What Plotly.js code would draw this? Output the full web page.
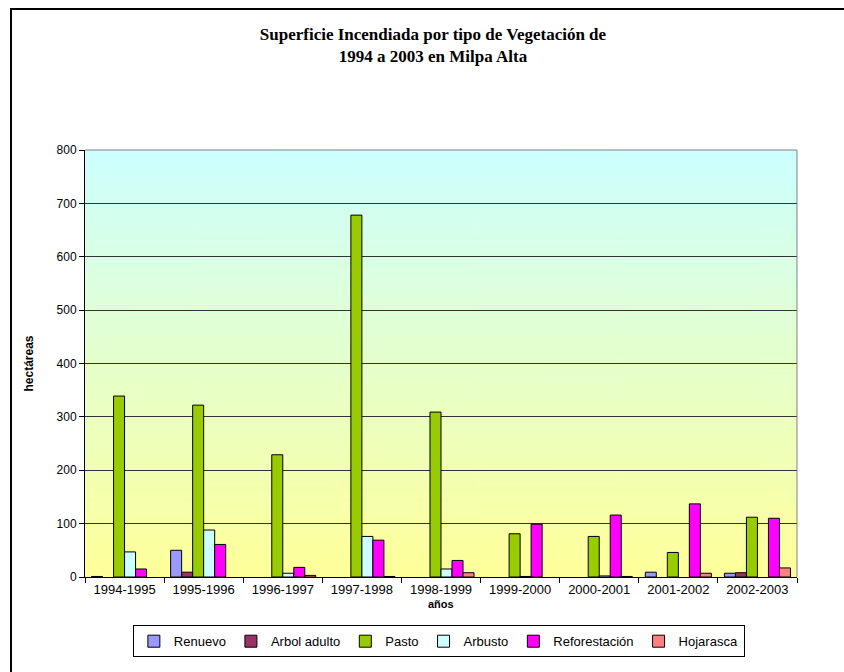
<!DOCTYPE html>
<html>
<head>
<meta charset="utf-8">
<script src="https://cdn.plot.ly/plotly-3.0.1.min.js"></script>
<style>
html,body{margin:0;padding:0;background:#fff;}
#wrap{position:relative;width:844px;height:672px;}
#chart{width:844px;height:672px;}
#frame{position:absolute;left:10px;top:8px;right:0;bottom:0;border-left:2px solid #000;border-top:2px solid #000;pointer-events:none;}
</style>
</head>
<body>
<div id="wrap"><div id="chart"></div><div id="frame"></div></div>
<script>
const categories = ["1994-1995","1995-1996","1996-1997","1997-1998","1998-1999","1999-2000","2000-2001","2001-2002","2002-2003"];
const renuevo       = [1, 50, 0, 0, 0, 0, 0, 9, 7];
const arbolAdulto   = [0, 9, 0, 0, 0, 0, 0, 0, 8];
const pasto         = [339, 322, 229, 678, 309, 81, 76, 46, 112];
const arbusto       = [47, 88, 7, 76, 15, 1, 2, 0, 0];
const reforestacion = [15, 61, 18, 69, 31, 99, 116, 137, 110];
const hojarasca     = [0, 0, 3, 1, 8, 0, 1, 7, 17];
const seriesNames   = ["Renuevo","Arbol adulto","Pasto","Arbusto","Reforestación","Hojarasca"];
const seriesColors  = ["#9999FF","#993366","#99CC00","#CCFFFF","#FF00FF","#FF8080"];
const seriesValues  = [renuevo, arbolAdulto, pasto, arbusto, reforestacion, hojarasca];

// gradient background image
const cv = document.createElement('canvas');
cv.width = 10; cv.height = 400;
const ctx = cv.getContext('2d');
const g = ctx.createLinearGradient(0,0,0,400);
g.addColorStop(0,'#CCFFFF');
g.addColorStop(1,'#FFFF99');
ctx.fillStyle = g; ctx.fillRect(0,0,10,400);
const bgURL = cv.toDataURL();

// zero values are not drawn (as in the original chart)
const traces = seriesNames.map((n,i)=>({
  type:'bar', name:n, x:categories, y:seriesValues[i].map(v=>v===0?null:v),
  marker:{color:seriesColors[i], line:{color:'#000', width:1}},
  hoverinfo:'x+y+name'
}));

const layout = {
  width:844, height:672,
  margin:{l:85, r:47, t:150, b:95},
  paper_bgcolor:'rgba(0,0,0,0)',
  plot_bgcolor:'rgba(0,0,0,0)',
  barmode:'group', bargap:0.165, bargroupgap:0,
  font:{family:'Arial, Liberation Sans, sans-serif', color:'#000', size:11},
  title:{text:'<b>Superficie Incendiada por tipo de Vegetación de<br>1994 a 2003 en Milpa Alta</b>',
    font:{family:'Liberation Serif, Times New Roman, serif', size:17, color:'#000'},
    xref:'container', x:0.513, xanchor:'center', yref:'container', y:0.94, yanchor:'top'},
  xaxis:{
    type:'category', showline:true, linecolor:'#000', linewidth:1,
    ticks:'outside', tickson:'boundaries', ticklen:5, tickcolor:'#000',
    showgrid:false, tickfont:{size:13}
  },
  yaxis:{
    range:[0,800], dtick:100, showline:true, linecolor:'#000', linewidth:1,
    ticks:'outside', ticklen:5, tickcolor:'#000',
    showgrid:true, gridcolor:'#333', gridwidth:1, zeroline:false,
    tickfont:{size:12},
    title:{text:'<b>hectáreas</b>', font:{size:12}, standoff:20}
  },
  annotations:[{text:'<b>años</b>', xref:'paper', yref:'paper', x:0.5, y:0,
    xanchor:'center', yanchor:'middle', yshift:-27, showarrow:false, font:{size:11}}],
  legend:{orientation:'h', x:0.497, xanchor:'center', y:-0.113, yanchor:'top',
    bordercolor:'#000', borderwidth:1, bgcolor:'#fff',
    font:{size:13}, itemwidth:30, tracegroupgap:0},
  images:[{source:bgURL, xref:'paper', yref:'paper', x:0, y:1, sizex:1, sizey:1,
    sizing:'stretch', layer:'below', xanchor:'left', yanchor:'top'}],
  shapes:[
    {type:'line', xref:'paper', yref:'paper', x0:0, x1:1, y0:1, y1:1, line:{color:'#808080', width:1}},
    {type:'line', xref:'paper', yref:'paper', x0:1, x1:1, y0:0, y1:1, line:{color:'#808080', width:1}}
  ],
  showlegend:true
};

Plotly.newPlot('chart', traces, layout, {displayModeBar:false, staticPlot:true});
</script>
</body>
</html>
